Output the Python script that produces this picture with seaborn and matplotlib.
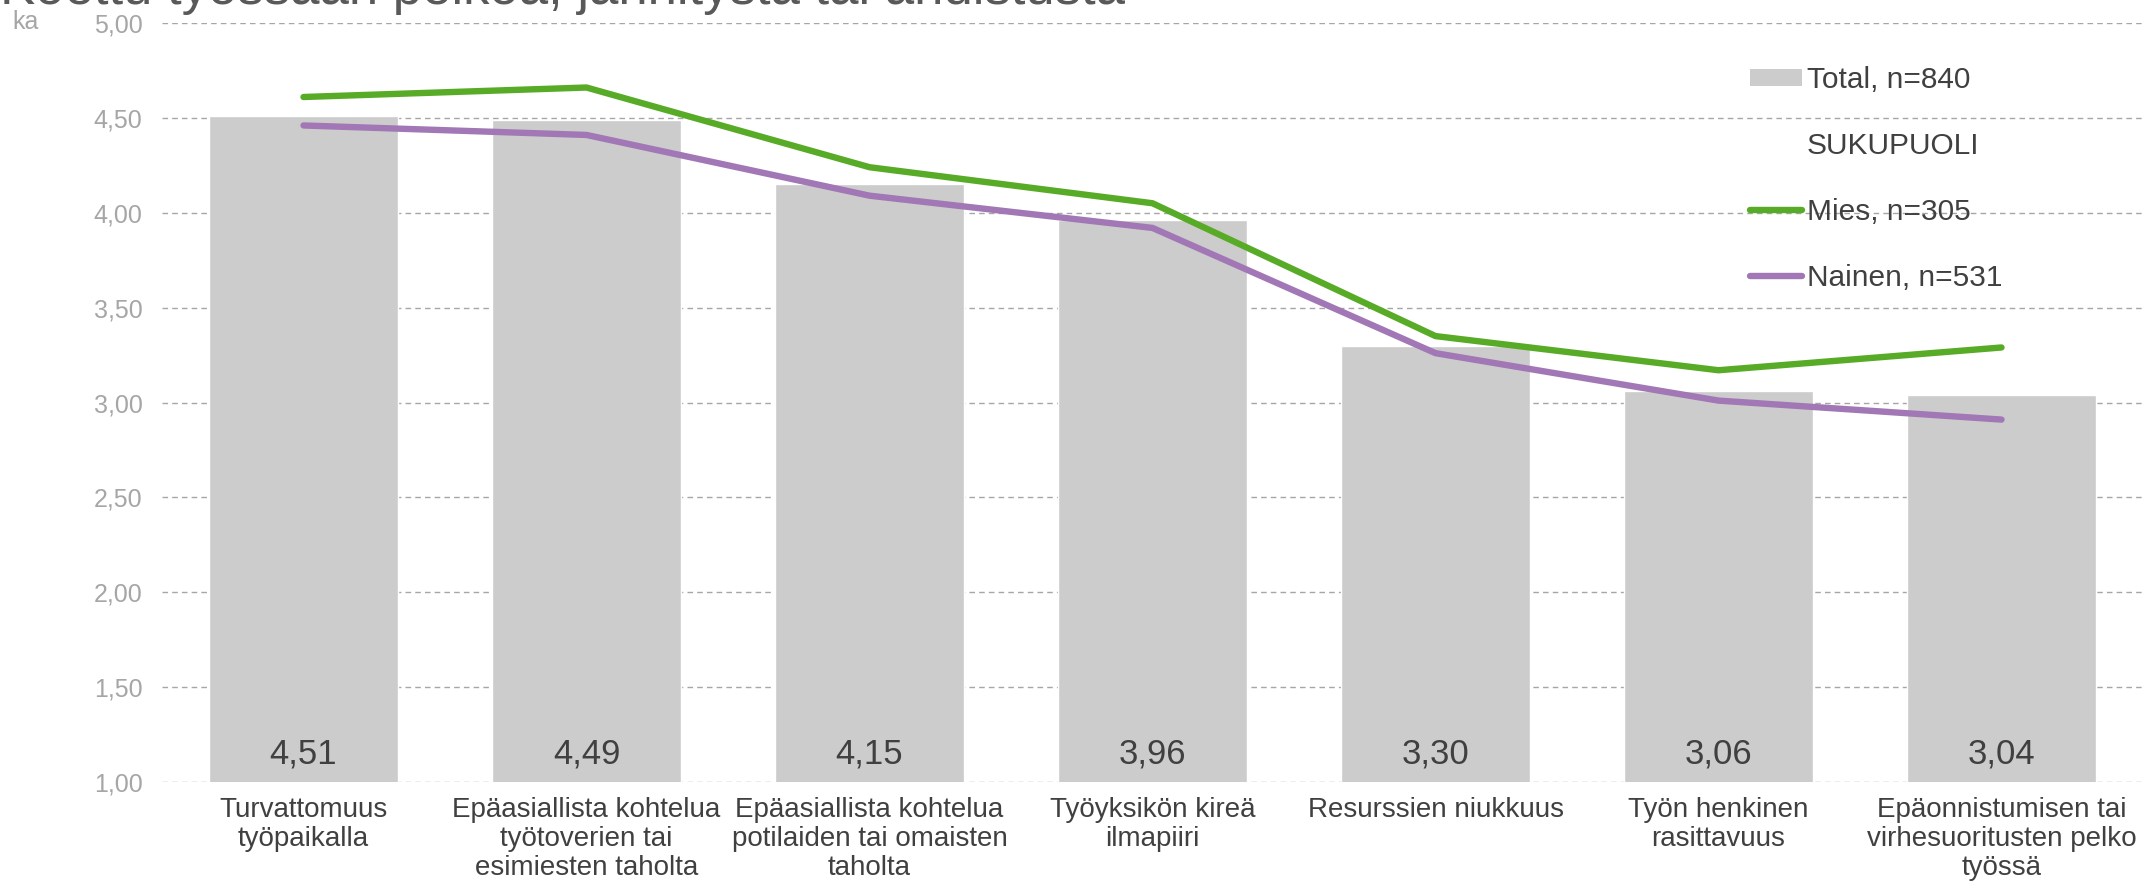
import numpy as np
import pandas as pd
import matplotlib
matplotlib.use("Agg")
import matplotlib.pyplot as plt
import seaborn as sns
from matplotlib.patches import Patch
from matplotlib.lines import Line2D

# data
categories = [
    "Turvattomuus\ntyöpaikalla",
    "Epäasiallista kohtelua\ntyötoverien tai\nesimiesten taholta",
    "Epäasiallista kohtelua\npotilaiden tai omaisten\ntaholta",
    "Työyksikön kireä\nilmapiiri",
    "Resurssien niukkuus",
    "Työn henkinen\nrasittavuus",
    "Epäonnistumisen tai\nvirhesuoritusten pelko\ntyössä",
]
total = [4.51, 4.49, 4.15, 3.96, 3.30, 3.06, 3.04]
mies = [4.61, 4.66, 4.24, 4.05, 3.35, 3.17, 3.29]
nainen = [4.46, 4.41, 4.09, 3.92, 3.26, 3.01, 2.91]
yticks = [1.0, 1.5, 2.0, 2.5, 3.0, 3.5, 4.0, 4.5, 5.0]

title = "Koettu työssään pelkoa, jännitystä tai ahdistusta"
lbl_total = "Total, n=840"
lbl_group = "SUKUPUOLI"
lbl_mies = "Mies, n=305"
lbl_nainen = "Nainen, n=531"

sns.set_style("white")
plt.rcParams["font.family"] = ["Liberation Sans", "DejaVu Sans"]

c_bar = "#cccccc"
c_green = "#58ab27"
c_purple = "#a277b5"
c_axis = "#a6a6a6"
c_text = "#404040"

W, H = 2154, 891
fig = plt.figure(figsize=(W / 100, H / 100), dpi=100)
ax = fig.add_axes([162 / W, 1 - 782 / H, (2143 - 162) / W, (782 - 23) / H])

df = pd.DataFrame({"kat": categories, "total": total, "mies": mies, "nainen": nainen})
df["pos"] = np.arange(len(df))

sns.barplot(data=df, x="kat", y="total", color=c_bar, width=0.665,
            saturation=1, ax=ax, zorder=2)
ax.plot(df["pos"], df["mies"], color=c_green, lw=4.6, solid_capstyle="round", zorder=3)
ax.plot(df["pos"], df["nainen"], color=c_purple, lw=4.6, solid_capstyle="round", zorder=3)

for i, v in enumerate(total):
    ax.text(i, 1.15, f"{v:.2f}".replace(".", ","), ha="center", va="center",
            fontsize=25, color=c_text, zorder=4)

ax.set_xlim(-0.5, len(categories) - 0.5)
ax.set_ylim(1, 5)
ax.set_yticks(yticks)
ax.set_yticklabels([f"{t:.2f}".replace(".", ",") for t in yticks])
ax.yaxis.grid(True, linestyle=(0, (4, 3)), color=c_axis, lw=1.0, zorder=0)
ax.set_axisbelow(True)
ax.tick_params(axis="y", length=0, pad=14, labelsize=18, labelcolor=c_axis)
ax.tick_params(axis="x", length=0, pad=11, labelsize=20, labelcolor=c_text)
for lab in ax.get_xticklabels():
    lab.set_linespacing(1.15)
ax.set_xlabel("")
ax.set_ylabel("")
for s in ax.spines.values():
    s.set_visible(False)

fig.text(12 / W, 1 - 22 / H, "ka", fontsize=18, color=c_axis, ha="left", va="center")
fig.text(0, 1 - 4 / H, title, fontsize=38, color="#595959", ha="left", va="baseline")

handles = [
    Patch(facecolor=c_bar, edgecolor="none"),
    Line2D([], [], color="none"),
    Line2D([], [], color=c_green, lw=4.6, solid_capstyle="round"),
    Line2D([], [], color=c_purple, lw=4.6, solid_capstyle="round"),
]
fig.legend(handles, [lbl_total, lbl_group, lbl_mies, lbl_nainen],
           loc="upper left", bbox_to_anchor=(1750 / W, 1 - 66 / H),
           frameon=False, fontsize=21.5, labelcolor=c_text,
           handlelength=1.75, handleheight=0.5, handletextpad=0.15,
           labelspacing=1.27, borderpad=0, borderaxespad=0)

fig.savefig("out.png", dpi=100)
